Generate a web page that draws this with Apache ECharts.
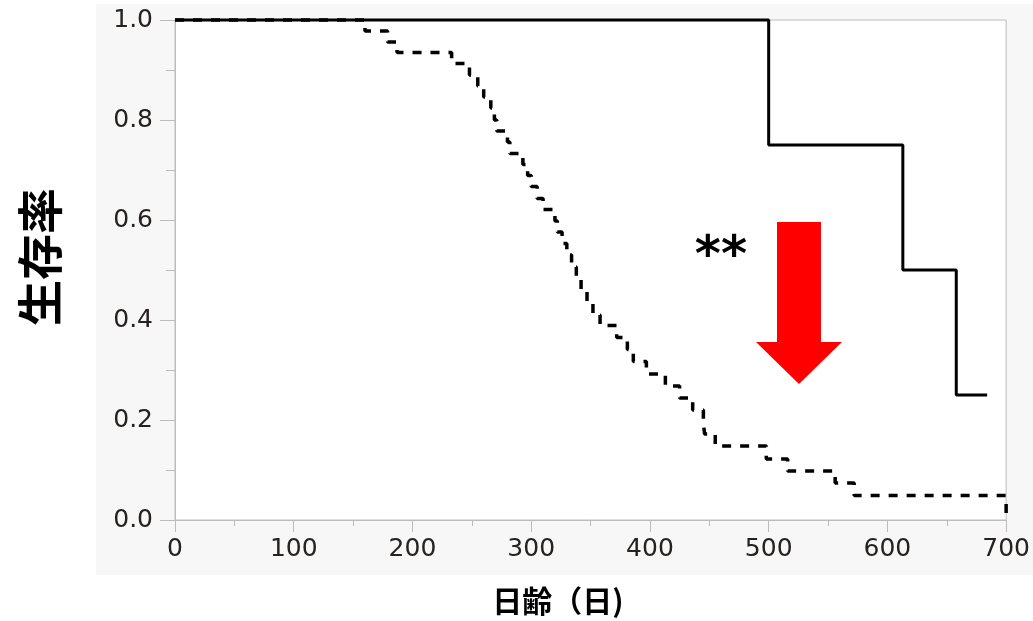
<!DOCTYPE html>
<html>
<head>
<meta charset="utf-8">
<script src="https://cdn.jsdelivr.net/npm/echarts@6/dist/echarts.min.js"></script>
<style>
  html, body { margin: 0; padding: 0; background: #fff; }
  #chart { width: 1033px; height: 621px; }
</style>
</head>
<body>
<div id="chart"></div>
<script>
// 対照群（点線）: [日齢, 生存率] — 生存率が下がる日
const controlDays = [0, 160, 179, 187, 233, 248, 255, 260, 266, 269, 271, 280, 282, 293, 297, 300, 305, 310,
    320, 322, 326, 330, 334, 338, 342, 347, 352, 358, 372, 381, 386, 397, 413, 425, 436, 445, 446, 455,
    498, 516, 556, 572, 700];
const controlSurv = [1.0, 0.978, 0.956, 0.935, 0.913, 0.89, 0.868, 0.846, 0.824, 0.80, 0.778, 0.756, 0.733,
    0.711, 0.689, 0.667, 0.643, 0.621, 0.598, 0.576, 0.553, 0.53, 0.506, 0.482, 0.458, 0.434, 0.41, 0.389,
    0.365, 0.341, 0.317, 0.292, 0.268, 0.244, 0.22, 0.196, 0.172, 0.148, 0.122, 0.098, 0.074, 0.049, 0.0];

// 処置群（実線）
const treatDays = [0, 500, 613, 658, 684];
const treatSurv = [1.0, 0.75, 0.5, 0.25, 0.25];

const xTicks = [0, 100, 200, 300, 400, 500, 600, 700];
const yTicks = [0.0, 0.2, 0.4, 0.6, 0.8, 1.0];

const pairs = (xs, ys) => xs.map((x, i) => [x, ys[i]]);

const axisGray = '#bcbcbc';
const labelColor = '#262220';
const numFont = 'DejaVu Sans';

const chart = echarts.init(document.getElementById('chart'));
chart.setOption({
    backgroundColor: '#fff',
    animation: false,
    grid: {
        left: 175,
        right: 25,
        top: 20,
        bottom: 101,
        show: true,
        backgroundColor: '#fff',
        borderColor: axisGray,
        borderWidth: 1
    },
    graphic: [
        {
            type: 'rect',
            z: -10,
            silent: true,
            shape: { x: 96, y: 4, width: 937, height: 571 },
            style: { fill: '#f7f7f7' }
        },
        {
            type: 'text',
            x: 40,
            y: 257,
            rotation: Math.PI / 2,
            style: {
                text: '生存率',
                font: 'bold 46px "Noto Sans CJK JP"',
                fill: '#000',
                textAlign: 'center',
                textVerticalAlign: 'middle'
            }
        },
        {
            type: 'text',
            x: 558,
            y: 601,
            style: {
                text: '日齢（日)',
                font: 'bold 30px "Noto Sans CJK JP"',
                fill: '#000',
                textAlign: 'center',
                textVerticalAlign: 'middle'
            }
        },
        {
            type: 'text',
            x: 721,
            y: 258,
            style: {
                text: '**',
                font: 'bold 50px "DejaVu Sans"',
                fill: '#000',
                textAlign: 'center',
                textVerticalAlign: 'middle'
            }
        },
        {
            type: 'polygon',
            shape: {
                points: [[777, 222], [821, 222], [821, 342], [842, 342], [799, 384], [756, 342], [777, 342]]
            },
            style: { fill: '#ff0000' },
            z: 20
        }
    ],
    xAxis: {
        type: 'value',
        min: 0,
        max: 700,
        interval: 100,
        axisLine: { show: true, onZero: false, lineStyle: { color: axisGray, width: 1 } },
        axisTick: { show: true, length: 12, lineStyle: { color: axisGray } },
        minorTick: { show: true, splitNumber: 2, length: 6, lineStyle: { color: axisGray } },
        splitLine: { show: false },
        axisLabel: {
            margin: 17,
            fontSize: 25,
            fontFamily: numFont,
            color: labelColor,
            formatter: (v) => (xTicks.indexOf(v) >= 0 ? String(v) : '')
        }
    },
    yAxis: {
        type: 'value',
        min: 0,
        max: 1,
        interval: 0.2,
        axisLine: { show: true, lineStyle: { color: axisGray, width: 1 } },
        axisTick: { show: true, length: 15, lineStyle: { color: axisGray } },
        minorTick: { show: true, splitNumber: 2, length: 9, lineStyle: { color: axisGray } },
        splitLine: { show: false },
        axisLabel: {
            margin: 22,
            fontSize: 25,
            fontFamily: numFont,
            color: labelColor,
            formatter: (v) => {
                const t = yTicks.find((y) => Math.abs(y - v) < 1e-6);
                return t === undefined ? '' : t.toFixed(1);
            }
        }
    },
    series: [
        {
            name: 'control',
            type: 'line',
            step: 'end',
            data: pairs(controlDays, controlSurv),
            showSymbol: false,
            clip: false,
            lineStyle: { color: '#000', width: 3.5, type: [9, 9] },
            z: 3
        },
        {
            name: 'treated',
            type: 'line',
            step: 'end',
            data: pairs(treatDays, treatSurv),
            showSymbol: false,
            clip: false,
            lineStyle: { color: '#000', width: 3 },
            z: 4
        }
    ]
});
</script>
</body>
</html>
